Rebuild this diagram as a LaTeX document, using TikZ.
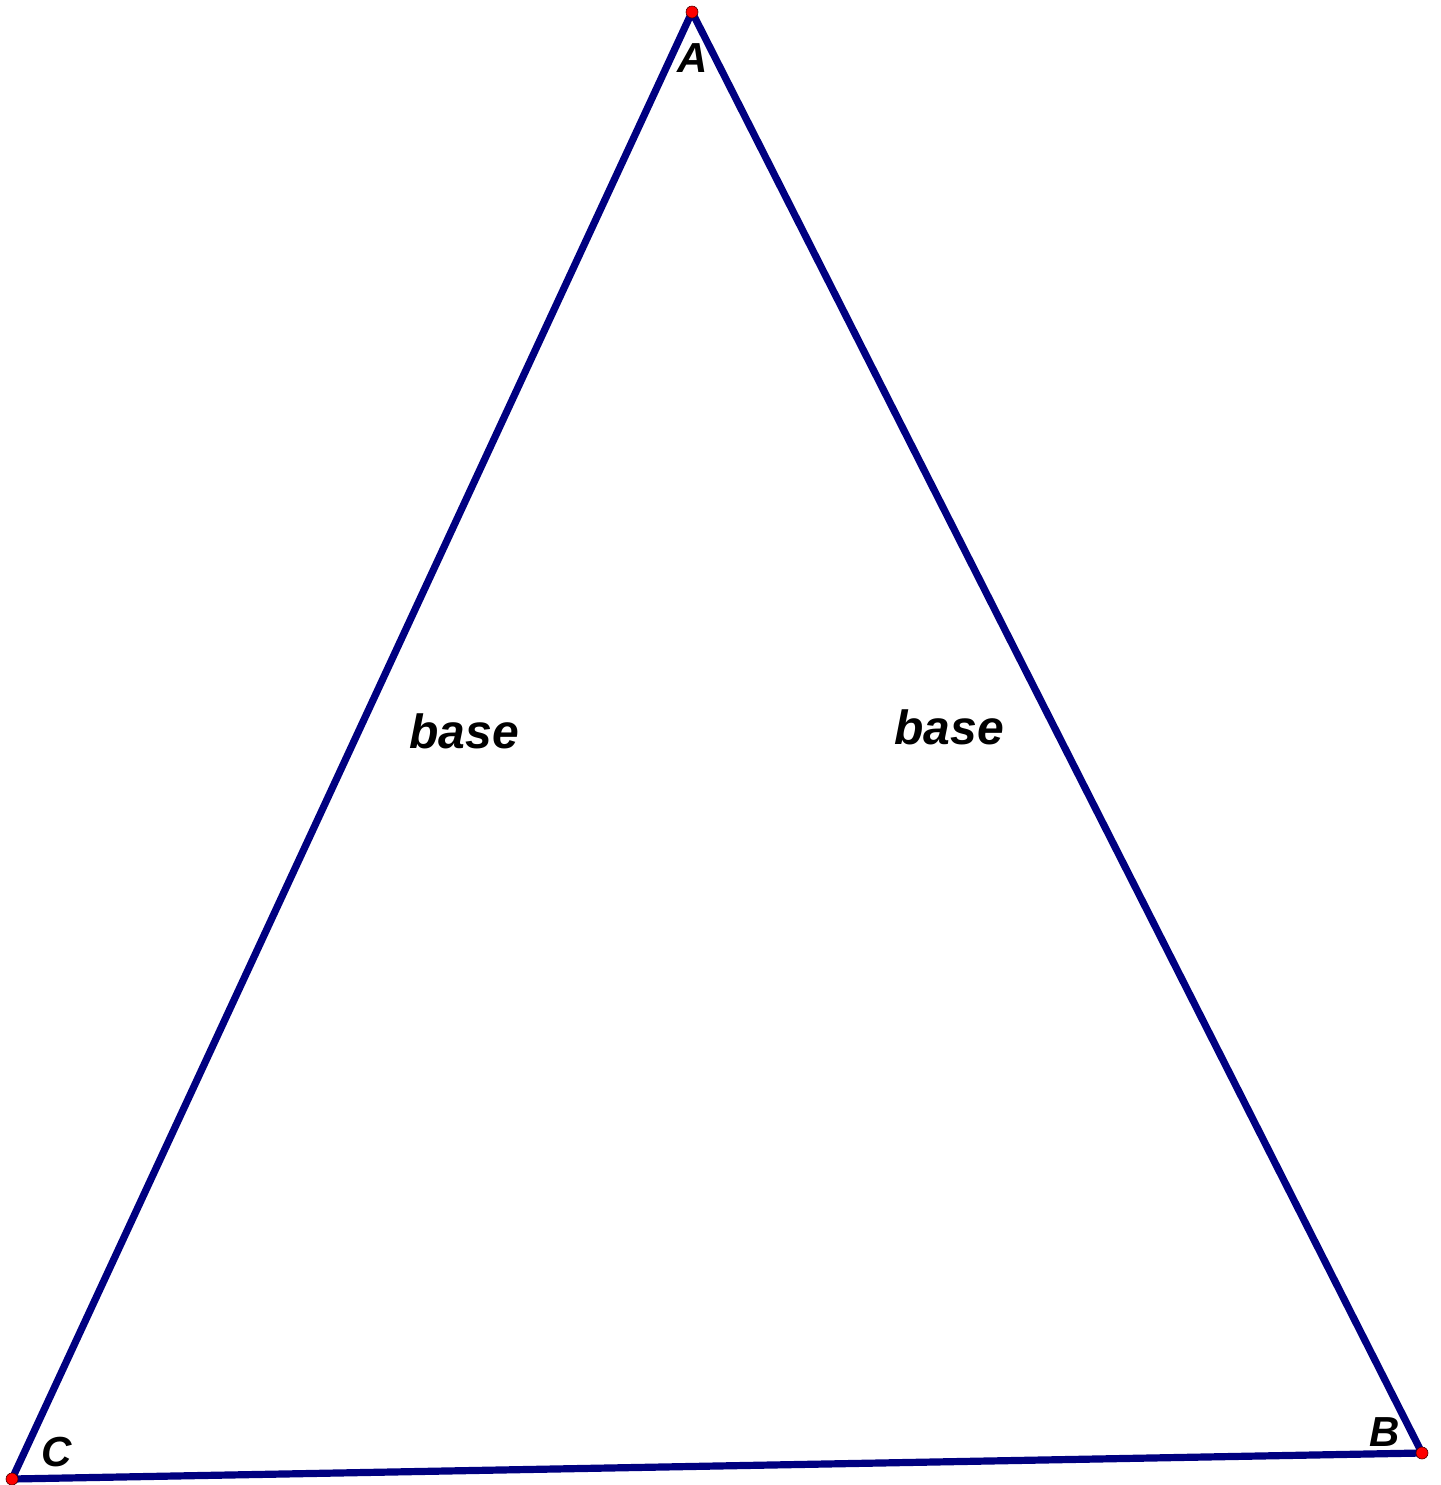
\documentclass[tikz,border=0pt]{standalone}
\usepackage{fontspec}
\setmainfont{Liberation Sans}
\definecolor{edgeblue}{RGB}{0,0,128}
\begin{document}
\begin{tikzpicture}[x=0.5pt,y=-0.5pt,
  side/.style={draw=edgeblue,line width=3.6pt,line cap=round,line join=round},
  vpt/.style={circle,fill=red,draw=black!70!red,line width=0.3pt,inner sep=0pt,minimum size=6pt},
  vlab/.style={font=\fontsize{21}{21}\selectfont\bfseries\itshape,inner sep=0pt},
  blab/.style={font=\fontsize{24}{24}\selectfont\bfseries\itshape,inner sep=0pt}]
\useasboundingbox (0,0) rectangle (1441,1485);
\coordinate (A) at (692,12);
\coordinate (B) at (1422,1453);
\coordinate (C) at (12,1479);
\draw[side] (A) -- (B) -- (C) -- cycle;
\node[vpt] (pA) at (A) {};
\node[vpt] (pB) at (B) {};
\node[vpt] (pC) at (C) {};
\node[vlab] (lA) at (693,58) {A};
\node[vlab] (lB) at (1385,1432) {B};
\node[vlab] (lC) at (57,1452) {C};
\node[blab] (b1) at (464,731) {base};
\node[blab] (b2) at (949,727) {base};
\end{tikzpicture}
\end{document}
